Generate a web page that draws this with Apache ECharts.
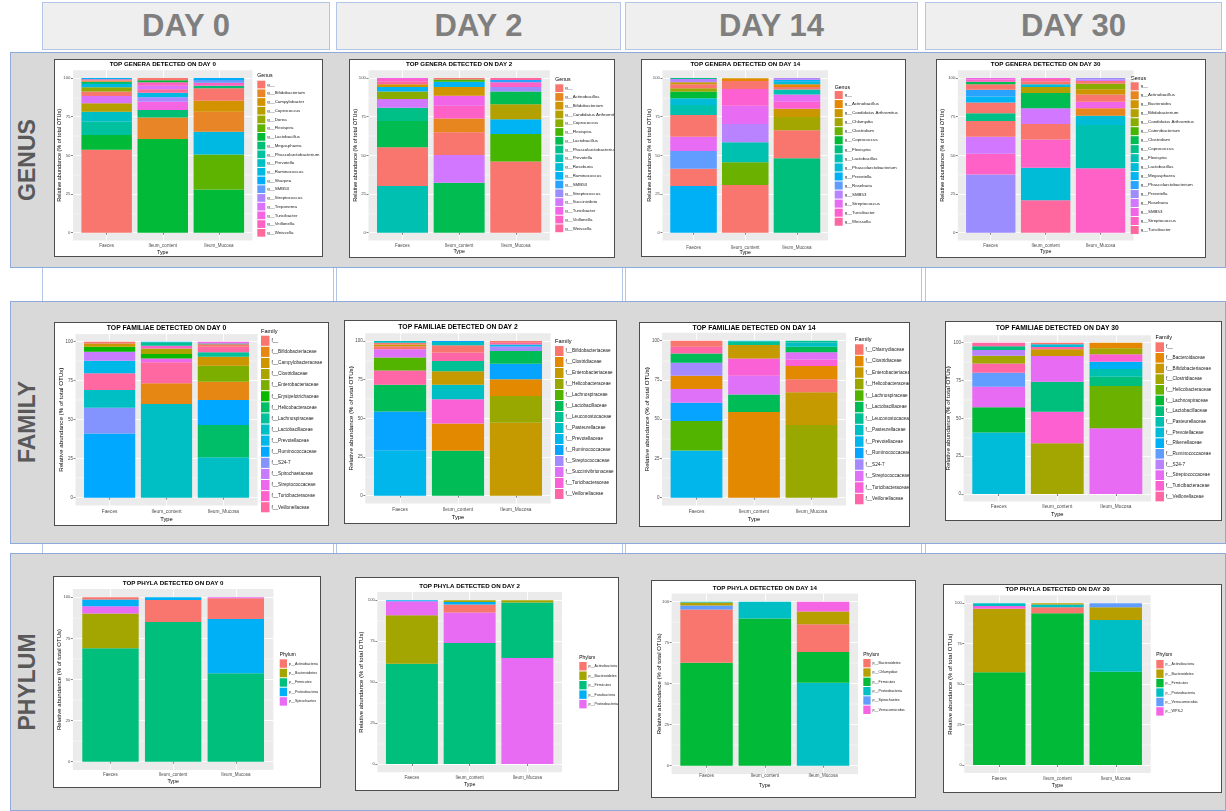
<!DOCTYPE html>
<html>
<head>
<meta charset="utf-8">
<script src="https://cdn.jsdelivr.net/npm/echarts@6/dist/echarts.min.js"></script>
<style>
  html, body { margin: 0; padding: 0; background: #fff; }
  #page { position: relative; width: 1226px; height: 811px; overflow: hidden; font-family: "Liberation Sans", Arial, sans-serif; }
  .band { position: absolute; background: #d9d9d9; border: 1px solid #8eaadb; box-sizing: border-box; }
  .head { position: absolute; background: #efefef; border: 1px solid #b4c6e7; box-sizing: border-box; color: #7f7f7f;
          font-weight: bold; font-size: 31px; display: flex; align-items: center; justify-content: center; }
  .vline { position: absolute; width: 1px; background: #b4c6e7; }
  .rowlab { position: absolute; color: #595959; font-weight: bold; font-size: 23px; white-space: nowrap;
            transform: translate(-50%, -50%) rotate(-90deg); }
  .panel { position: absolute; background: #fff; border: 1px solid #4d4d4d; box-sizing: border-box; }
  .chart { position: absolute; left: 0; top: 0; }
</style>
</head>
<body>
<div id="page"></div>
<script>
// ---------------------------------------------------------------
// Sample types on the x axis
const TYPES = ['Faeces', 'Ileum_content', 'Ileum_Mucosa'];

// ---------------- Genus level ----------------
// Each bar: [level index, relative abundance %], listed bottom to top.
const genusD0Levels = ['g__', 'g__Bifidobacterium', 'g__Campylobacter', 'g__Coprococcus', 'g__Dorea', 'g__Flexispira',
  'g__Lactobacillus', 'g__Megasphaera', 'g__Phascolarctobacterium', 'g__Prevotella', 'g__Ruminococcus', 'g__Sharpea',
  'g__SMB53', 'g__Streptococcus', 'g__Treponema', 'g__Turicibacter', 'g__Veillonella', 'g__Weissella'];
const genusD0Faeces = [[0, 53.7], [6, 9.4], [8, 8.6], [9, 6.5], [3, 5.4], [14, 4.8], [0, 2.8], [4, 2.8], [10, 2.1], [7, 1.5], [1, 0.8], [17, 0.8], [11, 0.8]];
const genusD0IleumContent = [[6, 60.6], [1, 13.8], [7, 4.9], [15, 5.4], [13, 2.8], [10, 3.0], [17, 2.2], [14, 2.3], [16, 2.2], [6, 1.3], [0, 1.5]];
const genusD0IleumMucosa = [[6, 28.0], [5, 22.6], [10, 14.7], [1, 12.9], [2, 7.1], [0, 8.0], [7, 1.7], [16, 2.0], [12, 1.7], [11, 1.3]];

const genusD2Levels = ['g__', 'g__Actinobacillus', 'g__Bifidobacterium', 'g__Candidatus Arthromitus', 'g__Coprococcus',
  'g__Flexispira', 'g__Lactobacillus', 'g__Phascolarctobacterium', 'g__Prevotella', 'g__Roseburia', 'g__Ruminococcus',
  'g__SMB53', 'g__Streptococcus', 'g__Succinivibrio', 'g__Turicibacter', 'g__Veillonella', 'g__Weissella'];
const genusD2Faeces = [[8, 30.2], [0, 25.0], [6, 17.0], [7, 8.6], [13, 5.6], [4, 4.8], [10, 3.0], [2, 1.7], [16, 1.7], [15, 1.8], [14, 0.6]];
const genusD2IleumContent = [[6, 32.3], [13, 17.9], [0, 14.7], [1, 9.0], [15, 8.2], [14, 6.5], [2, 5.6], [10, 3.4], [5, 1.5], [0, 0.9]];
const genusD2IleumMucosa = [[0, 46.1], [5, 17.7], [10, 9.5], [3, 9.7], [6, 8.2], [12, 3.0], [15, 3.0], [11, 1.5], [16, 1.3]];

const genusD14Levels = ['g__', 'g__Actinobacillus', 'g__Candidatus Arthromitus', 'g__Chlamydia', 'g__Clostridium',
  'g__Coprococcus', 'g__Flexispira', 'g__Lactobacillus', 'g__Phascolarctobacterium', 'g__Prevotella', 'g__Roseburia',
  'g__SMB53', 'g__Streptococcus', 'g__Turicibacter', 'g__Weissella'];
const genusD14Faeces = [[9, 30.2], [0, 11.2], [10, 11.4], [12, 9.2], [0, 14.1], [7, 6.4], [8, 4.4], [5, 4.3], [3, 2.1], [0, 2.6], [2, 1.3], [11, 2.2], [6, 0.6]];
const genusD14IleumContent = [[0, 30.8], [4, 14.7], [7, 12.9], [11, 11.9], [12, 11.8], [13, 10.8], [0, 5.2], [1, 1.5], [2, 0.4]];
const genusD14IleumMucosa = [[6, 48.1], [0, 18.1], [3, 8.6], [2, 5.4], [13, 4.5], [12, 4.7], [7, 3.1], [0, 1.7], [1, 1.7], [8, 1.7], [9, 1.3], [11, 1.1]];

const genusD30Levels = ['g__', 'g__Actinobacillus', 'g__Bacteroides', 'g__Bifidobacterium', 'g__Candidatus Arthromitus',
  'g__Catenibacterium', 'g__Clostridium', 'g__Coprococcus', 'g__Flexispira', 'g__Lactobacillus', 'g__Megasphaera',
  'g__Phascolarctobacterium', 'g__Prevotella', 'g__Roseburia', 'g__SMB53', 'g__Streptococcus', 'g__Turicibacter'];
const genusD30Faeces = [[12, 37.7], [15, 13.4], [13, 11.0], [0, 10.1], [7, 5.0], [0, 6.9], [10, 3.9], [11, 4.4], [0, 3.6], [6, 1.5], [15, 1.6], [14, 0.9]];
const genusD30IleumContent = [[16, 20.9], [9, 21.1], [15, 18.3], [0, 10.0], [13, 10.1], [6, 9.9], [3, 3.9], [9, 1.7], [0, 1.7], [16, 1.8], [14, 0.6]];
const genusD30IleumMucosa = [[15, 41.6], [8, 28.0], [9, 6.0], [1, 4.8], [14, 4.3], [0, 4.7], [2, 3.3], [4, 3.6], [0, 1.7], [13, 1.1], [12, 0.9]];

// ---------------- Family level ----------------
const familyD0Levels = ['f__', 'f__Bifidobacteriaceae', 'f__Campylobacteraceae', 'f__Clostridiaceae', 'f__Enterobacteriaceae',
  'f__Erysipelotrichaceae', 'f__Helicobacteraceae', 'f__Lachnospiraceae', 'f__Lactobacillaceae', 'f__Prevotellaceae',
  'f__Ruminococcaceae', 'f__S24-7', 'f__Spirochaetaceae', 'f__Streptococcaceae', 'f__Turicibacteraceae', 'f__Veillonellaceae'];
const familyD0Faeces = [[10, 41.2], [11, 16.5], [8, 11.3], [15, 10.7], [9, 8.1], [12, 5.8], [5, 3.2], [2, 2.1], [0, 1.1]];
const familyD0IleumContent = [[8, 60.0], [1, 13.3], [15, 13.5], [13, 2.5], [5, 2.8], [3, 3.6], [14, 1.7], [7, 2.2], [9, 0.4]];
const familyD0IleumMucosa = [[8, 25.9], [6, 20.7], [10, 16.0], [1, 11.8], [4, 10.2], [2, 5.8], [7, 2.8], [15, 3.6], [0, 1.5], [6, 0.6], [13, 1.1]];

const familyD2Levels = ['f__Bifidobacteriaceae', 'f__Clostridiaceae', 'f__Enterobacteriaceae', 'f__Helicobacteraceae',
  'f__Lachnospiraceae', 'f__Lactobacillaceae', 'f__Leuconostocaceae', 'f__Pasteurellaceae', 'f__Prevotellaceae',
  'f__Ruminococcaceae', 'f__Streptococcaceae', 'f__Succinivibrionaceae', 'f__Turicibacteraceae', 'f__Veillonellaceae'];
const familyD2Faeces = [[8, 29.3], [9, 25.2], [5, 17.3], [13, 9.2], [4, 8.4], [11, 5.2], [0, 2.0], [2, 1.2], [0, 1.1], [7, 1.1]];
const familyD2IleumContent = [[5, 29.1], [1, 17.5], [12, 15.7], [7, 9.5], [2, 8.6], [6, 6.7], [13, 5.4], [0, 4.7], [7, 2.2], [9, 0.6]];
const familyD2IleumMucosa = [[2, 47.2], [3, 17.2], [1, 10.8], [9, 10.1], [5, 8.2], [10, 3.0], [8, 1.3], [13, 1.1], [0, 1.1]];

const familyD14Levels = ['f__Chlamydiaceae', 'f__Clostridiaceae', 'f__Enterobacteriaceae', 'f__Helicobacteraceae',
  'f__Lachnospiraceae', 'f__Lactobacillaceae', 'f__Leuconostocaceae', 'f__Pasteurellaceae', 'f__Prevotellaceae',
  'f__Ruminococcaceae', 'f__S24-7', 'f__Streptococcaceae', 'f__Turicibacteraceae', 'f__Veillonellaceae'];
const familyD14Faeces = [[8, 30.1], [4, 18.7], [9, 11.7], [11, 8.7], [1, 8.5], [10, 8.3], [5, 5.9], [13, 4.3], [0, 3.8]];
const familyD14IleumContent = [[1, 54.6], [5, 11.2], [11, 11.9], [12, 11.0], [2, 8.5], [6, 2.1], [7, 0.7]];
const familyD14IleumMucosa = [[3, 46.3], [2, 20.8], [0, 8.3], [1, 8.5], [12, 4.2], [11, 4.5], [5, 3.6], [7, 2.7], [6, 1.1]];

const familyD30Levels = ['f__', 'f__Bacteroidaceae', 'f__Bifidobacteriaceae', 'f__Clostridiaceae', 'f__Helicobacteraceae',
  'f__Lachnospiraceae', 'f__Lactobacillaceae', 'f__Pasteurellaceae', 'f__Prevotellaceae', 'f__Rikenellaceae',
  'f__Ruminococcaceae', 'f__S24-7', 'f__Streptococcaceae', 'f__Turicibacteraceae', 'f__Veillonellaceae'];
const familyD30Faeces = [[8, 40.7], [5, 16.6], [12, 13.6], [10, 9.3], [14, 6.1], [3, 5.1], [11, 3.8], [6, 2.4], [14, 2.4]];
const familyD30IleumContent = [[3, 33.5], [13, 20.9], [6, 19.8], [12, 17.0], [2, 4.4], [14, 1.5], [8, 1.8], [0, 1.1]];
const familyD30IleumMucosa = [[12, 43.4], [4, 28.0], [6, 6.1], [7, 5.1], [9, 4.8], [13, 4.9], [3, 4.0], [1, 3.7]];

// ---------------- Phylum level ----------------
const phylumD0Levels = ['p__Actinobacteria', 'p__Bacteroidetes', 'p__Firmicutes', 'p__Proteobacteria', 'p__Spirochaetes'];
const phylumD0Faeces = [[2, 69.0], [1, 21.1], [4, 4.4], [3, 4.1], [0, 1.4]];
const phylumD0IleumContent = [[2, 85.0], [0, 13.4], [3, 1.6]];
const phylumD0IleumMucosa = [[2, 53.8], [3, 33.0], [0, 12.6], [4, 0.6]];

const phylumD2Levels = ['p__Actinobacteria', 'p__Bacteroidetes', 'p__Firmicutes', 'p__Fusobacteria', 'p__Proteobacteria'];
const phylumD2Faeces = [[2, 61.3], [1, 29.5], [4, 8.6], [3, 0.6]];
const phylumD2IleumContent = [[2, 73.9], [4, 18.6], [0, 4.9], [3, 1.6], [1, 1.0]];
const phylumD2IleumMucosa = [[4, 64.8], [2, 33.8], [1, 1.4]];

const phylumD14Levels = ['p__Bacteroidetes', 'p__Chlamydiae', 'p__Firmicutes', 'p__Proteobacteria', 'p__Spirochaetes', 'p__Verrucomicrobia'];
const phylumD14Faeces = [[2, 62.8], [0, 32.5], [4, 2.4], [1, 1.8], [3, 0.5]];
const phylumD14IleumContent = [[2, 89.8], [3, 10.2]];
const phylumD14IleumMucosa = [[3, 50.6], [2, 18.7], [0, 16.9], [1, 7.9], [5, 5.9]];

const phylumD30Levels = ['p__Actinobacteria', 'p__Bacteroidetes', 'p__Firmicutes', 'p__Proteobacteria', 'p__Verrucomicrobia', 'p__WPS-2'];
const phylumD30Faeces = [[2, 57.3], [1, 39.4], [5, 1.6], [3, 1.7]];
const phylumD30IleumContent = [[2, 93.8], [0, 3.7], [3, 1.7], [1, 0.8]];
const phylumD30IleumMucosa = [[2, 57.7], [3, 32.0], [1, 7.8], [4, 2.5]];

// Y axis tick labels
const Y_TICKS = [0, 25, 50, 75, 100];
const Y_MINOR = [12.5, 37.5, 62.5, 87.5];

// ---------------------------------------------------------------
// ggplot-style hue palette (polar LUV, c = 100, l = 65)
function hclHex(h, c, l) {
  const hr = h * Math.PI / 180;
  const U = c * Math.cos(hr), V = c * Math.sin(hr);
  const WY = 100, Wu = 0.1978398, Wv = 0.4683363;
  const Y = WY * (l > 7.999592 ? Math.pow((l + 16) / 116, 3) : l / 903.3);
  const u = U / (13 * l) + Wu, v = V / (13 * l) + Wv;
  const X = 9 * Y * u / (4 * v);
  const Z = -X / 3 - 5 * Y + 3 * Y / v;
  const g = t => (t > 0.00304 ? 1.055 * Math.pow(t, 1 / 2.4) - 0.055 : 12.92 * t);
  const to = t => {
    const x = Math.round(Math.min(1, Math.max(0, g(t))) * 255);
    return x.toString(16).padStart(2, '0');
  };
  const r = (3.240479 * X - 1.537150 * Y - 0.498535 * Z) / WY;
  const gg = (-0.969256 * X + 1.875992 * Y + 0.041556 * Z) / WY;
  const b = (0.055648 * X - 0.204043 * Y + 1.057311 * Z) / WY;
  return '#' + to(r) + to(gg) + to(b);
}
function huePalette(n) {
  const out = [];
  for (let i = 0; i < n; i++) out.push(hclHex(15 + 360 * i / n, 100, 65));
  return out;
}

// ---------------------------------------------------------------
// Page frame: column headers, row bands and row labels
const page = document.getElementById('page');
function addDiv(cls, css, text) {
  const d = document.createElement('div');
  d.className = cls;
  Object.assign(d.style, css);
  if (text) d.textContent = text;
  page.appendChild(d);
  return d;
}
const HEADERS = ['DAY 0', 'DAY 2', 'DAY 14', 'DAY 30'];
const headerBoxes = [[42, 2, 288, 48], [336, 2, 285, 48], [625, 2, 293, 48], [925, 2, 297, 48]];
headerBoxes.forEach((b, i) => addDiv('head', { left: b[0] + 'px', top: b[1] + 'px', width: b[2] + 'px', height: b[3] + 'px' }, HEADERS[i]));

[[42, 268, 34], [333, 268, 34], [336, 268, 34], [622, 268, 34], [625, 268, 34], [921, 268, 34], [925, 268, 34],
 [42, 544, 10], [333, 544, 10], [336, 544, 10], [622, 544, 10], [625, 544, 10], [921, 544, 10], [925, 544, 10]]
  .forEach(v => addDiv('vline', { left: v[0] + 'px', top: v[1] + 'px', height: v[2] + 'px' }));

const bands = [[10, 52, 1216, 216], [10, 301, 1216, 243], [10, 553, 1216, 258]];
bands.forEach(b => addDiv('band', { left: b[0] + 'px', top: b[1] + 'px', width: b[2] + 'px', height: b[3] + 'px' }));

[['GENUS', 27, 160], ['FAMILY', 27, 422], ['PHYLUM', 27, 682]]
  .forEach(r => addDiv('rowlab', { left: r[1] + 'px', top: r[2] + 'px' }, r[0]));

// ---------------------------------------------------------------
// Text sizes per taxonomic level
const FS_GENUS = { title: 6.2, yTitle: 5.5, xLab: 4.5, yLab: 4.3, type: 5.3, legTitle: 5.2, leg: 4.4 };
const FS_FAMILY = { title: 6.8, yTitle: 6.2, xLab: 4.8, yLab: 4.5, type: 5.8, legTitle: 5.6, leg: 4.7 };
const FS_PHYLUM = { title: 6.2, yTitle: 6.0, xLab: 4.5, yLab: 4.2, type: 5.3, legTitle: 4.8, leg: 3.6 };

const panels = [
  { title: 'TOP GENERA DETECTED ON DAY 0', legendTitle: 'Genus', levels: genusD0Levels,
    bars: [genusD0Faeces, genusD0IleumContent, genusD0IleumMucosa],
    box: [54, 59, 269, 198], plotX: [73, 252.5], y100: 78, y0: 232.7, titleY: 64.3, yTitleX: 59.7, xLabY: 245.7, typeY: 252.3,
    legX: 257.3, legTitleY: 75.7, keysTop: 80.7, pitch: 8.72, keyW: 8, fs: FS_GENUS },
  { title: 'TOP GENERA DETECTED ON DAY 2', legendTitle: 'Genus', levels: genusD2Levels,
    bars: [genusD2Faeces, genusD2IleumContent, genusD2IleumMucosa],
    box: [349, 59, 266, 199], plotX: [368.5, 549.8], y100: 78, y0: 232.7, titleY: 64.3, yTitleX: 355.3, xLabY: 245.7, typeY: 251.7,
    legX: 555.3, legTitleY: 80, keysTop: 84.3, pitch: 8.76, keyW: 8, fs: FS_GENUS },
  { title: 'TOP GENERA DETECTED ON DAY 14', legendTitle: 'Genus', levels: genusD14Levels,
    bars: [genusD14Faeces, genusD14IleumContent, genusD14IleumMucosa],
    box: [641, 59, 265, 198], plotX: [662.5, 828], y100: 78, y0: 232.7, titleY: 64.3, yTitleX: 649.3, xLabY: 247.3, typeY: 252.3,
    legX: 834.7, legTitleY: 87.3, keysTop: 91, pitch: 9.05, keyW: 8, fs: FS_GENUS },
  { title: 'TOP GENERA DETECTED ON DAY 30', legendTitle: 'Genus', levels: genusD30Levels,
    bars: [genusD30Faeces, genusD30IleumContent, genusD30IleumMucosa],
    box: [936, 59, 270, 199], plotX: [957.8, 1133.5], y100: 78, y0: 232.7, titleY: 64.3, yTitleX: 942.7, xLabY: 245.7, typeY: 251.7,
    legX: 1130.7, legTitleY: 78.3, keysTop: 82.3, pitch: 8.98, keyW: 8, fs: FS_GENUS },

  { title: 'TOP FAMILIAE DETECTED ON DAY 0', legendTitle: 'Family', levels: familyD0Levels,
    bars: [familyD0Faeces, familyD0IleumContent, familyD0IleumMucosa],
    box: [54, 322, 275, 204], plotX: [75.5, 257.5], y100: 341.7, y0: 497.7, titleY: 327.7, yTitleX: 61.3, xLabY: 511.7, typeY: 519,
    legX: 261, legTitleY: 331, keysTop: 335.7, pitch: 11.1, keyW: 8.5, fs: FS_FAMILY },
  { title: 'TOP FAMILIAE DETECTED ON DAY 2', legendTitle: 'Family', levels: familyD2Levels,
    bars: [familyD2Faeces, familyD2IleumContent, familyD2IleumMucosa],
    box: [344, 320, 273, 204], plotX: [365.3, 550.7], y100: 341, y0: 495.7, titleY: 327, yTitleX: 351.3, xLabY: 509.3, typeY: 517.7,
    legX: 555, legTitleY: 341.3, keysTop: 346, pitch: 11.0, keyW: 8.5, fs: FS_FAMILY },
  { title: 'TOP FAMILIAE DETECTED ON DAY 14', legendTitle: 'Family', levels: familyD14Levels,
    bars: [familyD14Faeces, familyD14IleumContent, familyD14IleumMucosa],
    box: [639, 322, 271, 205], plotX: [662, 846], y100: 340.7, y0: 497.7, titleY: 328.3, yTitleX: 647.3, xLabY: 511.7, typeY: 519.3,
    legX: 855, legTitleY: 339.3, keysTop: 344.3, pitch: 11.5, keyW: 8.5, fs: FS_FAMILY },
  { title: 'TOP FAMILIAE DETECTED ON DAY 30', legendTitle: 'Family', levels: familyD30Levels,
    bars: [familyD30Faeces, familyD30IleumContent, familyD30IleumMucosa],
    box: [945, 321, 277, 200], plotX: [963.5, 1151.1], y100: 342.7, y0: 494, titleY: 328.3, yTitleX: 948.3, xLabY: 506.7, typeY: 514.3,
    legX: 1155.5, legTitleY: 337.7, keysTop: 342.3, pitch: 10.67, keyW: 8.5, fs: FS_FAMILY },

  { title: 'TOP PHYLA DETECTED ON DAY 0', legendTitle: 'Phylum', levels: phylumD0Levels,
    bars: [phylumD0Faeces, phylumD0IleumContent, phylumD0IleumMucosa],
    box: [53, 576, 268, 212], plotX: [72.9, 273.4], y100: 597.3, y0: 761.7, titleY: 583.3, yTitleX: 59.7, xLabY: 775, typeY: 782,
    legX: 279.7, legTitleY: 655, keysTop: 659.3, pitch: 9.47, keyW: 7.3, fs: FS_PHYLUM },
  { title: 'TOP PHYLA DETECTED ON DAY 2', legendTitle: 'Phylum', levels: phylumD2Levels,
    bars: [phylumD2Faeces, phylumD2IleumContent, phylumD2IleumMucosa],
    box: [355, 577, 264, 214], plotX: [377.3, 562], y100: 600.3, y0: 764, titleY: 586, yTitleX: 361.7, xLabY: 777.7, typeY: 784.7,
    legX: 579.3, legTitleY: 658, keysTop: 662, pitch: 9.47, keyW: 7.3, fs: FS_PHYLUM },
  { title: 'TOP PHYLA DETECTED ON DAY 14', legendTitle: 'Phylum', levels: phylumD14Levels,
    bars: [phylumD14Faeces, phylumD14IleumContent, phylumD14IleumMucosa],
    box: [651, 580, 265, 218], plotX: [671.6, 858], y100: 601.7, y0: 765.7, titleY: 588.3, yTitleX: 659.3, xLabY: 776, typeY: 786,
    legX: 863.3, legTitleY: 654.3, keysTop: 659, pitch: 9.33, keyW: 7.3, fs: FS_PHYLUM },
  { title: 'TOP PHYLA DETECTED ON DAY 30', legendTitle: 'Phylum', levels: phylumD30Levels,
    bars: [phylumD30Faeces, phylumD30IleumContent, phylumD30IleumMucosa],
    box: [943, 584, 279, 209], plotX: [964.3, 1150.7], y100: 603.3, y0: 765, titleY: 589.3, yTitleX: 950, xLabY: 779, typeY: 785.7,
    legX: 1156.3, legTitleY: 655, keysTop: 660, pitch: 9.44, keyW: 7.3, fs: FS_PHYLUM }
];

const FONT = '"Liberation Sans", Arial, sans-serif';

function textEl(x, y, text, size, opts) {
  return Object.assign({
    type: 'text', x: x, y: y, silent: true,
    style: { text: text, fontSize: size, fontFamily: FONT, fill: '#000',
      align: 'center', verticalAlign: 'middle', textAlign: 'center', textVerticalAlign: 'middle',
      fontWeight: (opts && opts.bold) ? 'bold' : 'normal' }
  }, opts && opts.el);
}

function buildPanel(cfg) {
  const [bx, by, bw, bh] = cfg.box;
  const holder = addDiv('panel', { left: bx + 'px', top: by + 'px', width: bw + 'px', height: bh + 'px' });
  const el = document.createElement('div');
  el.className = 'chart';
  el.style.width = (bw - 2) + 'px';
  el.style.height = (bh - 2) + 'px';
  holder.appendChild(el);
  const ox = bx + 1, oy = by + 1;

  const colors = huePalette(cfg.levels.length);
  const pxPer = (cfg.y0 - cfg.y100) / 100;
  const plotTop = cfg.y100 - 5 * pxPer, plotBot = cfg.y0 + 5 * pxPer;
  const gridW = cfg.plotX[1] - cfg.plotX[0];
  const barW = gridW / 3.2 * 0.9;
  const cx = (cfg.plotX[0] + cfg.plotX[1]) / 2 - ox;
  const fs = cfg.fs;

  // One stacked series per stacking position; each segment carries its own level colour.
  // Values are stored as [abundance, position] so that the abundance is the stacked dimension.
  const series = [];
  const depth = Math.max.apply(null, cfg.bars.map(b => b.length));
  for (let k = 0; k < depth; k++) {
    series.push({
      type: 'bar', name: 'seg' + k, stack: 'abundance', barWidth: barW, silent: true,
      encode: { x: 1, y: 0 },
      data: cfg.bars.map((bar, i) => {
        const s = bar[k];
        return s ? { value: [s[1], i + 1], itemStyle: { color: colors[s[0]] } } : { value: [0, i + 1] };
      })
    });
  }
  // Legend entries (one per level)
  cfg.levels.forEach((lv, j) => series.push({
    type: 'bar', name: lv, stack: 'abundance', barWidth: barW, encode: { x: 1, y: 0 }, data: [],
    itemStyle: { color: colors[j] }
  }));

  const chart = echarts.init(el, null, { renderer: 'canvas' });
  chart.setOption({
    animation: false,
    grid: { left: cfg.plotX[0] - ox, top: plotTop - oy, width: gridW, height: plotBot - plotTop,
      show: true, backgroundColor: '#ebebeb', borderWidth: 0 },
    xAxis: {
      type: 'value', min: 0.4, max: 3.6,
      axisLine: { show: false },
      axisTick: { show: true, length: 2, lineStyle: { color: '#333', width: 0.6 }, customValues: [1, 2, 3] },
      axisLabel: { customValues: [1, 2, 3], formatter: v => TYPES[Math.round(v) - 1] || '',
        fontSize: fs.xLab, fontFamily: FONT, color: '#4d4d4d', margin: cfg.xLabY - plotBot - fs.xLab / 2 },
      splitLine: { show: true, lineStyle: { color: '#ffffff', width: 0.9 } }
    },
    yAxis: [
      { type: 'value', min: -5, max: 105,
        axisLine: { show: false },
        axisTick: { show: true, length: 2, lineStyle: { color: '#333', width: 0.6 }, customValues: Y_TICKS },
        axisLabel: { customValues: Y_TICKS, fontSize: fs.yLab, fontFamily: FONT, color: '#4d4d4d', margin: 2.5 },
        splitLine: { show: true, lineStyle: { color: '#ffffff', width: 0.9 } } },
      { type: 'value', min: -5, max: 105, position: 'left',
        axisLine: { show: false },
        axisTick: { show: false, customValues: Y_MINOR },
        axisLabel: { show: false, customValues: Y_MINOR },
        splitLine: { show: true, lineStyle: { color: '#ffffff', width: 0.45 } } }
    ],
    legend: {
      orient: 'vertical', left: cfg.legX - ox, top: cfg.keysTop - oy, padding: 0,
      itemWidth: cfg.keyW, itemHeight: cfg.pitch - 1, itemGap: 1, icon: 'rect',
      selectedMode: false,
      textStyle: { fontSize: fs.leg, fontFamily: FONT, color: '#1a1a1a', padding: [0, 0, 0, -3] },
      data: cfg.levels
    },
    graphic: [
      textEl(cx, cfg.titleY - oy, cfg.title, fs.title, { bold: true }),
      textEl(cfg.yTitleX - ox, (plotTop + plotBot) / 2 - oy, 'Relative abundance (% of total OTUs)', fs.yTitle,
        { el: { rotation: Math.PI / 2 } }),
      textEl(cx, cfg.typeY - oy, 'Type', fs.type),
      (function () {
        const t = textEl(cfg.legX - ox, cfg.legTitleY - oy, cfg.legendTitle, fs.legTitle);
        t.style.align = 'left'; t.style.textAlign = 'left';
        return t;
      })()
    ],
    series: series
  });
}

panels.forEach(buildPanel);
</script>
</body>
</html>
